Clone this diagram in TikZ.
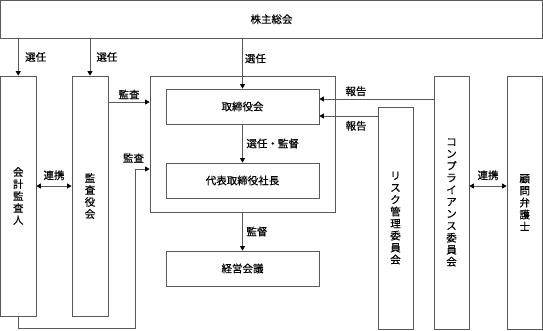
\documentclass[tikz,border=0pt]{standalone}
\usepackage{fontspec}
\setmainfont{Noto Sans CJK JP}[FakeBold=0.4]
\usetikzlibrary{arrows.meta,positioning}
\definecolor{lineG}{RGB}{90,90,90}
\tikzset{
  box/.style={draw=lineG, line width=0.8pt, inner sep=0pt, font=\fontsize{10.5}{12}\selectfont},
  vbox/.style={box, align=center},
  arr/.style={-{Triangle[length=4.5pt, width=5pt, black]}, draw=lineG, line width=0.8pt},
  biarr/.style={{Triangle[length=4.5pt, width=5pt, black]}-{Triangle[length=4.5pt, width=5pt, black]}, draw=lineG, line width=0.8pt},
  lbl/.style={font=\fontsize{10.5}{12}\selectfont, inner sep=1.5pt},
}

\begin{document}
\begin{tikzpicture}[x=1pt, y=-1pt]
  \useasboundingbox (0,0) rectangle (543,330);
  % boxes
  \node[box, minimum width=542pt, minimum height=37.5pt] (soukai) at (271.5,19.25) {株主総会};
  \node[vbox, minimum width=35.5pt, minimum height=240pt] (kaikei) at (18.25,196) {会\\計\\監\\査\\人};
  \node[vbox, minimum width=36pt, minimum height=240pt] (kansa) at (90,196) {監\\査\\役\\会};
  \node[box, minimum width=185pt, minimum height=136pt] (board) at (242.5,144) {};
  \node[box, minimum width=153pt, minimum height=35pt] (torishimari) at (242.5,106.5) {取締役会};
  \node[box, minimum width=153pt, minimum height=35pt] (daihyo) at (242.5,180.5) {代表取締役社長};
  \node[box, minimum width=153pt, minimum height=35pt] (keiei) at (242.5,268.5) {経営会議};
  \node[vbox, minimum width=35pt, minimum height=222pt] (risk) at (395.5,218) {リ\\ス\\ク\\管\\理\\委\\員\\会};
  \node[vbox, minimum width=35pt, minimum height=253pt] (comp) at (451.5,202.5) {コ\\ン\\プ\\ラ\\イ\\ア\\ン\\ス\\委\\員\\会};
  \node[vbox, minimum width=35.5pt, minimum height=253pt] (bengo) at (524.75,202.5) {顧\\問\\弁\\護\\士};

  % election
  \draw[arr] (kaikei.north |- soukai.south) -- (kaikei.north) node[midway, right=5pt, lbl] {選任};
  \draw[arr] (kansa.north |- soukai.south) -- (kansa.north) node[midway, right=4.5pt, lbl] {選任};
  \draw[arr] (torishimari.north |- soukai.south) -- (torishimari.north) node[pos=0.4, right=0.5pt, lbl] {選任};

  % audit
  \draw[arr] (kansa.east |- 0,102) -- (board.west |- 0,102) node[midway, above=1pt, lbl] {監査};
  \draw[arr] (kaikei.south) -- ++(0,12) -| (135,169) -- (board.west |- 0,169);
  \node[lbl] at (133.5,158) {監査};
  \draw[biarr] (kaikei.east |- 0,186) -- (kansa.west |- 0,186) node[midway, above=4pt, lbl] {連携};

  % board
  \draw[arr] (torishimari.south) -- (daihyo.north) node[midway, right=2pt, lbl] {選任・監督};
  \draw[arr] (board.south) -- (keiei.north) node[midway, right=2pt, lbl] {監督};

  % reports
  \draw[arr] (comp.west |- 0,99) -- (torishimari.east |- 0,99) node[pos=0.68, above=1pt, lbl] {報告};
  \draw[arr] (risk.west |- 0,116) -- (torishimari.east |- 0,116) node[pos=0.37, below=3pt, lbl] {報告};
  \draw[biarr] (comp.east |- 0,186) -- (bengo.west |- 0,186) node[midway, above=4pt, lbl] {連携};
\end{tikzpicture}
\end{document}
